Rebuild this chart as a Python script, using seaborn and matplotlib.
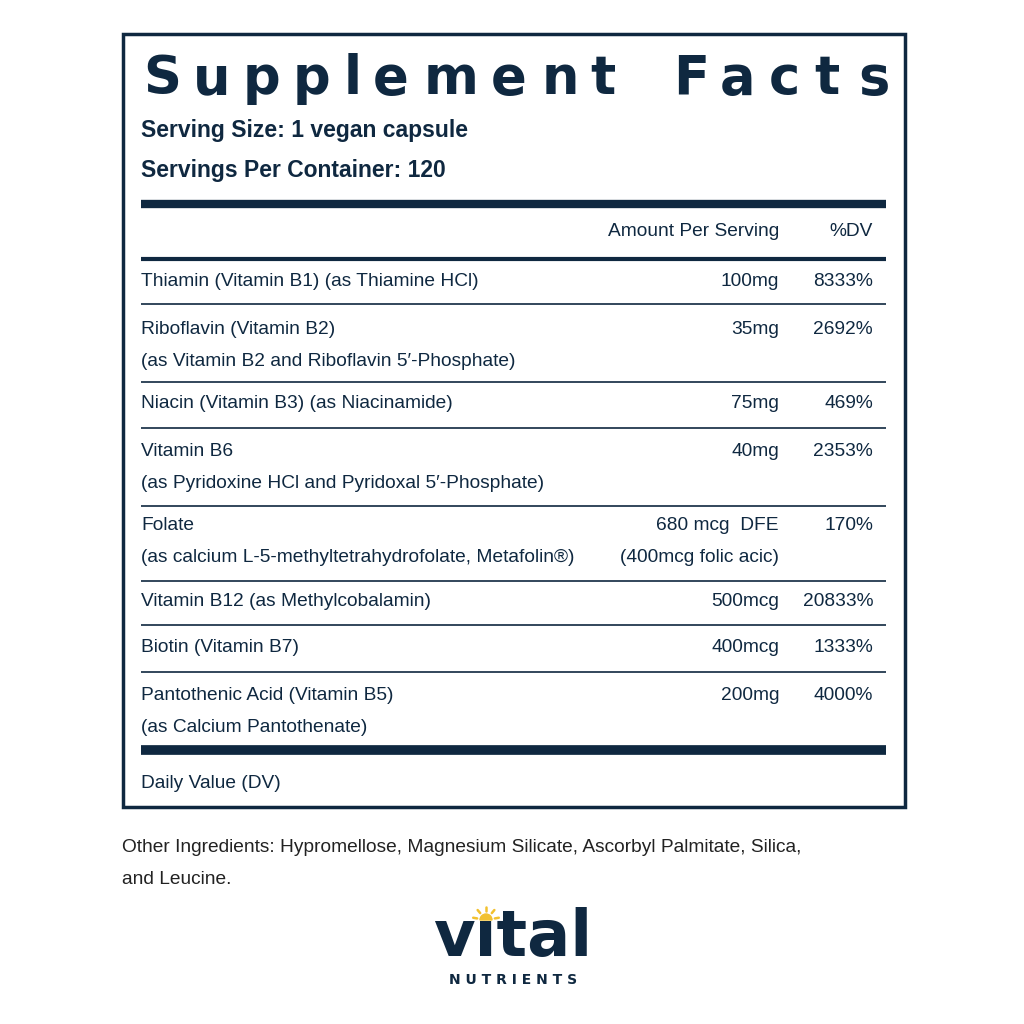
import matplotlib
matplotlib.use("Agg")
import matplotlib.pyplot as plt
import seaborn as sns
import numpy as np
from matplotlib.patches import Rectangle, Wedge
from matplotlib.textpath import TextPath
from matplotlib.font_manager import FontProperties

sns.set_theme(style="white")
plt.rcParams['font.family'] = ['Liberation Sans', 'DejaVu Sans']

NAVY = "#0f2840"
title = "Supplement Facts"
serving = ["Serving Size: 1 vegan capsule", "Servings Per Container: 120"]
nutrients = [
    ["Thiamin (Vitamin B1) (as Thiamine HCl)"],
    ["Riboflavin (Vitamin B2)", "(as Vitamin B2 and Riboflavin 5\u2032-Phosphate)"],
    ["Niacin (Vitamin B3) (as Niacinamide)"],
    ["Vitamin B6", "(as Pyridoxine HCl and Pyridoxal 5\u2032-Phosphate)"],
    ["Folate", "(as calcium L-5-methyltetrahydrofolate, Metafolin\u00ae)"],
    ["Vitamin B12 (as Methylcobalamin)"],
    ["Biotin (Vitamin B7)"],
    ["Pantothenic Acid (Vitamin B5)", "(as Calcium Pantothenate)"],
]
amounts = [["100mg"], ["35mg"], ["75mg"], ["40mg"], ["680 mcg  DFE", "(400mcg folic acic)"],
           ["500mcg"], ["400mcg"], ["200mg"]]
dvs = ["8333%", "2692%", "469%", "2353%", "170%", "20833%", "1333%", "4000%"]
other = ["Other Ingredients: Hypromellose, Magnesium Silicate, Ascorbyl Palmitate, Silica,",
         "and Leucine."]

FS = 13.8
fig = plt.figure(figsize=(10.24, 10.24), dpi=100)
ax = fig.add_axes([0, 0, 1, 1])
ax.set_xlim(0, 1024); ax.set_ylim(1024, 0); ax.axis("off")

ax.add_patch(Rectangle((123, 34), 782, 773, fill=False, ec=NAVY, lw=2.5))

tfs = 38
fp = FontProperties(family="DejaVu Sans", weight="bold", size=tfs)
scale = 100 / 72.0
widths = [TextPath((0, 0), c, prop=fp).get_extents().width * scale if c != " " else 0
          for c in title]
xs0, xs1 = 143, 884
gaps = len(title) - 1
gap = (xs1 - xs0 - sum(widths)) / (gaps + 1)
x = xs0
for c, w in zip(title, widths):
    if c != " ":
        ax.text(x, 79, c, ha="left", va="center", fontsize=tfs, fontweight="bold",
                color=NAVY, family="DejaVu Sans")
    x += w + gap * (2 if c == " " else 1)

ax.text(141, 131, serving[0], fontsize=16.5, fontweight="bold", color=NAVY, va="center")
ax.text(141, 170, serving[1], fontsize=16.5, fontweight="bold", color=NAVY, va="center")

def hline(y, lw):
    ax.plot([141, 886], [y, y], color=NAVY, lw=lw, solid_capstyle="butt")

hline(204, 6)
ax.text(779, 231, "Amount Per Serving", ha="right", va="center", fontsize=FS, color=NAVY)
ax.text(873, 231, "%DV", ha="right", va="center", fontsize=FS, color=NAVY)
hline(259, 3)

row_tops = [281, 329, 404, 452, 525, 602, 648, 695]
row_lines = [304, 382, 428, 506, 581, 625, 672]
for top, nm, am, dv in zip(row_tops, nutrients, amounts, dvs):
    for k, t in enumerate(nm):
        ax.text(141, top + 32 * k, t, va="center", fontsize=FS, color=NAVY)
    for k, t in enumerate(am):
        ax.text(779, top + 32 * k, t, ha="right", va="center", fontsize=FS, color=NAVY)
    ax.text(873, top, dv, ha="right", va="center", fontsize=FS, color=NAVY)
for y in row_lines:
    hline(y, 1.2)
hline(750, 7)
ax.text(141, 783, "Daily Value (DV)", va="center", fontsize=FS, color=NAVY)

ax.text(122, 847, other[0], va="center", fontsize=FS, color="#222222")
ax.text(122, 880, other[1], va="center", fontsize=FS, color="#222222")

# logo
SUN = "#f2c12e"
ax.text(513, 938, "v\u0131tal", ha="center", va="center", fontsize=46, fontweight="bold",
        color=NAVY, family="DejaVu Sans", zorder=2)
cx, cy = 486, 920
ax.add_patch(Wedge((cx, cy), 6, 180, 360, color=SUN, zorder=3))
for a in np.deg2rad([10, 50, 90, 130, 170]):
    ax.plot([cx + 9 * np.cos(a), cx + 13 * np.cos(a)],
            [cy - 9 * np.sin(a), cy - 13 * np.sin(a)], color=SUN, lw=1.8, zorder=3)
ax.text(513, 980, "N U T R I E N T S", ha="center", va="center", fontsize=10,
        fontweight="bold", color=NAVY, family="DejaVu Sans")

fig.savefig("out.png", dpi=100, facecolor="white")
